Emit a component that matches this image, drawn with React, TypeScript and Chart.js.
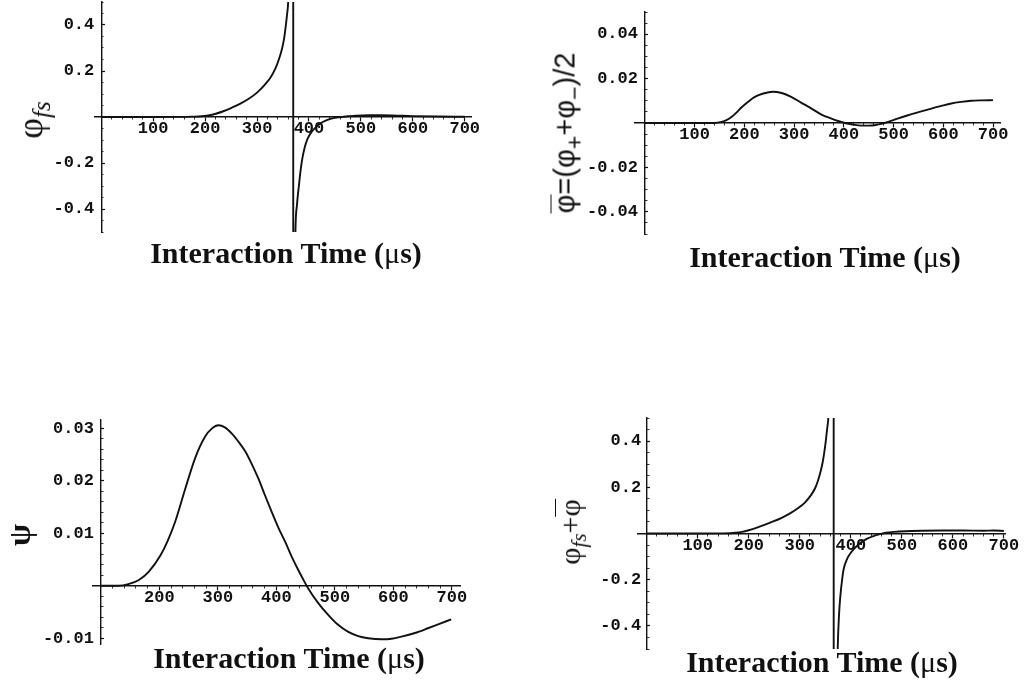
import React, { useEffect, useRef } from "react";
import { Chart, registerables } from "chart.js";

Chart.register(...registerables);

// ---------- tick labels ----------
const X_TICKS = [100, 200, 300, 400, 500, 600, 700];
const X_TICKS_PSI = [200, 300, 400, 500, 600, 700];
const Y_TICKS_PHI = [-0.4, -0.2, 0.2, 0.4];
const Y_TICKS_BAR = [-0.04, -0.02, 0.02, 0.04];
const Y_TICKS_PSI = [-0.01, 0.01, 0.02, 0.03];

// ---------- series (interaction time in µs, value) ----------
const PHI_FS: [number, number][] = [
  [0, 0], [50, 0], [100, 0], [150, 0.0005], [175, 0.0015], [193, 0.003], [206, 0.007],
  [219, 0.013], [235, 0.025], [251, 0.04], [268, 0.058], [284, 0.079], [300, 0.106],
  [316, 0.143], [326, 0.172], [335, 0.209], [342, 0.25], [348, 0.296], [352, 0.34],
  [355, 0.39], [357.5, 0.44], [360, 0.5], [363, 0.7], [366, 1.3], [368, 2.8],
  [369.3, 12], [370.1, -12], [371, -1.6], [372.5, -0.75], [374, -0.494], [377, -0.38],
  [380.6, -0.299], [384, -0.23], [387, -0.183], [392, -0.13], [397, -0.096], [405, -0.065],
  [413, -0.045], [422, -0.028], [432, -0.016], [445, -0.006], [458, -0.001], [475, 0.003],
  [490, 0.006], [516, 0.008], [540, 0.008], [570, 0.006], [600, 0.004], [650, 0.002],
  [700, 0.001],
];

const PHI_BAR: [number, number][] = [
  [0, 0], [50, 0], [100, 0], [140, 0], [154, 0.0005], [164, 0.0013], [174, 0.0027],
  [184, 0.0047], [194, 0.007], [207, 0.0095], [221, 0.0118], [238, 0.0133], [257, 0.0141],
  [275, 0.0135], [294, 0.0118], [314, 0.0092], [335, 0.0065], [355, 0.0038], [375, 0.002],
  [390, 0.0008], [402, 0], [418, -0.0007], [435, -0.0012], [450, -0.0012], [462, -0.001],
  [475, -0.0004], [489, 0.0005], [508, 0.002], [529, 0.0035], [552, 0.005], [576, 0.0065],
  [596, 0.0077], [616, 0.0088], [636, 0.0095], [656, 0.01], [678, 0.0102], [700, 0.0103],
];

const PSI: [number, number][] = [
  [100, 0], [130, 0], [147, 0.0003], [165, 0.0011], [182, 0.0027], [202, 0.0058],
  [214, 0.0085], [227, 0.0122], [244, 0.0184], [261, 0.0243], [278, 0.0284], [290, 0.0300],
  [301, 0.0306], [312, 0.0302], [324, 0.029], [335, 0.0275], [347, 0.0256], [358, 0.0232],
  [369, 0.0205], [380, 0.0174], [392, 0.0141], [403, 0.0112], [415, 0.0084], [426, 0.0056],
  [437.5, 0.003], [446, 0.0012], [454.5, -0.0005], [471, -0.0032], [489, -0.0056],
  [505, -0.0074], [523, -0.0088], [540, -0.0096], [557, -0.01], [580, -0.0102],
  [597, -0.0101], [614, -0.0097], [637, -0.009], [659, -0.0081], [680, -0.0072],
  [699, -0.0064],
];

const PHI_SUM: [number, number][] = [
  [0, 0], [50, 0], [100, 0], [150, 0.0005], [174, 0.003], [187, 0.007], [200, 0.014],
  [216, 0.025], [232, 0.038], [248, 0.052], [264.5, 0.068], [281, 0.087], [297, 0.11],
  [310, 0.134], [322, 0.166], [330, 0.196], [335, 0.224], [340.6, 0.266], [344.6, 0.305],
  [348, 0.35], [351, 0.4], [353.5, 0.45], [356, 0.5], [359, 0.65], [362, 0.95],
  [364.5, 1.8], [366.1, 12], [366.9, -12], [368.5, -2], [371, -0.95], [374.5, -0.49],
  [377, -0.35], [379.6, -0.27], [383, -0.2], [386, -0.155], [392.4, -0.112], [398, -0.09],
  [405, -0.07], [414, -0.05], [424, -0.033], [433, -0.021], [443, -0.012], [455, -0.004],
  [469, 0.003], [485, 0.007], [507, 0.01], [540, 0.012], [580, 0.013], [620, 0.013],
  [660, 0.012], [680, 0.013], [700, 0.011],
];

// ---------- layout of the four panels ----------
type Box = { left: number; top: number; width: number; height: number };
type Area = { left: number; top: number; right: number; bottom: number };
type Panel = {
  id: string;
  data: [number, number][];
  box: Box;
  area: Area;
  xMin: number;
  xMax: number;
  yMin: number;
  yMax: number;
  yAxisAt: number;
  xTicks: number[];
  yTicks: number[];
  xMinorStep: number;
  yMinorStep: number;
  yLabelGap: number;
};

const PANELS: Panel[] = [
  {
    id: "phifs", data: PHI_FS,
    box: { left: 0, top: 0, width: 516, height: 300 },
    area: { left: 95, top: 2, right: 471, bottom: 232 },
    xMin: -12, xMax: 712, yMin: -0.5, yMax: 0.5, yAxisAt: 0,
    xTicks: X_TICKS, yTicks: Y_TICKS_PHI, xMinorStep: 20, yMinorStep: 0.05, yLabelGap: 7,
  },
  {
    id: "phibar", data: PHI_BAR,
    box: { left: 516, top: 0, width: 516, height: 300 },
    area: { left: 635, top: 12, right: 1000, bottom: 234 },
    xMin: -20, xMax: 714, yMin: -0.05, yMax: 0.05, yAxisAt: 0,
    xTicks: X_TICKS, yTicks: Y_TICKS_BAR, xMinorStep: 20, yMinorStep: 0.005, yLabelGap: 7,
  },
  {
    id: "psi", data: PSI,
    box: { left: 0, top: 342, width: 516, height: 342 },
    area: { left: 92.7, top: 420, right: 460, bottom: 644 },
    xMin: 86, xMax: 714, yMin: -0.0111, yMax: 0.0316, yAxisAt: 100,
    xTicks: X_TICKS_PSI, yTicks: Y_TICKS_PSI, xMinorStep: 20, yMinorStep: 0.002, yLabelGap: 7,
  },
  {
    id: "phisum", data: PHI_SUM,
    box: { left: 516, top: 342, width: 516, height: 342 },
    area: { left: 638, top: 418, right: 1005.4, bottom: 649 },
    xMin: -17, xMax: 703, yMin: -0.5, yMax: 0.5, yAxisAt: 0,
    xTicks: X_TICKS, yTicks: Y_TICKS_PHI, xMinorStep: 20, yMinorStep: 0.05, yLabelGap: 5.5,
  },
];

const INK = "#111";
const MONO = { family: "'Liberation Mono', 'Courier New', monospace", weight: "bold" as const, size: 17, lineHeight: 1 };

function minorTicks(lo: number, hi: number, step: number, majors: number[]): number[] {
  const out: number[] = [];
  const n0 = Math.ceil(lo / step - 1e-9);
  const n1 = Math.floor(hi / step + 1e-9);
  for (let n = n0; n <= n1; n++) {
    const v = +(n * step).toFixed(6);
    if (Math.abs(v) < 1e-12) continue;
    if (majors.some((m) => Math.abs(m - v) < step * 0.01)) continue;
    out.push(v);
  }
  return out;
}

const noPad = (s: any) => {
  s.paddingLeft = 0;
  s.paddingRight = 0;
  s.paddingTop = 0;
  s.paddingBottom = 0;
};
const setTicks = (vals: number[]) => (s: any) => {
  s.ticks = vals.map((v) => ({ value: v }));
};

function makeConfig(p: Panel): any {
  const pad = {
    left: p.area.left - p.box.left,
    top: p.area.top - p.box.top,
    right: p.box.left + p.box.width - p.area.right,
    bottom: p.box.top + p.box.height - p.area.bottom,
  };
  const pxPerX = (p.area.right - p.area.left) / (p.xMax - p.xMin);
  const labelAt = p.yAxisAt - p.yLabelGap / pxPerX;
  const xLo = Math.max(0, p.yAxisAt);
  const xMinor = minorTicks(xLo, 700, p.xMinorStep, p.xTicks);
  const yMinor = minorTicks(p.yMin, p.yMax, p.yMinorStep, p.yTicks);
  const hidden = {
    border: { display: false },
    ticks: { display: false },
    afterFit: noPad,
  };
  return {
    type: "scatter",
    data: {
      datasets: [
        {
          data: p.data.map(([x, y]) => ({ x, y })),
          xAxisID: "x",
          yAxisID: "y",
          showLine: true,
          borderColor: INK,
          borderWidth: 1.9,
          pointRadius: 0,
          pointHoverRadius: 0,
          fill: false,
          cubicInterpolationMode: "monotone",
        },
      ],
    },
    options: {
      responsive: false,
      animation: false,
      events: [],
      layout: { padding: pad },
      plugins: { legend: { display: false }, tooltip: { enabled: false }, title: { display: false } },
      scales: {
        x: {
          type: "linear", axis: "x", min: p.xMin, max: p.xMax,
          position: { y: 0 },
          afterBuildTicks: setTicks(p.xTicks),
          afterFit: noPad,
          border: { display: true, color: INK, width: 1.4 },
          grid: { display: true, drawOnChartArea: false, drawTicks: true, tickLength: 4, tickColor: INK, tickWidth: 1.2 },
          ticks: { display: true, color: INK, font: MONO, padding: -0.5, maxRotation: 0, minRotation: 0, autoSkip: false, callback: (v: number) => String(v) },
        },
        xm: {
          type: "linear", axis: "x", min: p.xMin, max: p.xMax,
          position: { y: 0 },
          afterBuildTicks: setTicks(xMinor),
          ...hidden,
          grid: { display: true, drawOnChartArea: false, drawTicks: true, tickLength: 2.5, tickColor: "#333", tickWidth: 1 },
        },
        y: {
          type: "linear", axis: "y", min: p.yMin, max: p.yMax,
          position: { x: p.yAxisAt },
          afterBuildTicks: setTicks(p.yTicks),
          afterFit: noPad,
          border: { display: true, color: INK, width: 1.4 },
          grid: { display: true, drawOnChartArea: false, drawTicks: true, tickLength: -4, tickColor: INK, tickWidth: 1.2 },
          ticks: { display: false },
        },
        ym: {
          type: "linear", axis: "y", min: p.yMin, max: p.yMax,
          position: { x: p.yAxisAt },
          afterBuildTicks: setTicks(yMinor),
          ...hidden,
          grid: { display: true, drawOnChartArea: false, drawTicks: true, tickLength: -2.5, tickColor: "#333", tickWidth: 1 },
        },
        yl: {
          type: "linear", axis: "y", min: p.yMin, max: p.yMax,
          position: { x: labelAt },
          afterBuildTicks: setTicks(p.yTicks),
          afterFit: noPad,
          border: { display: false },
          grid: { display: false, drawTicks: false },
          ticks: { display: true, color: INK, font: MONO, padding: 0, autoSkip: false, callback: (v: number) => String(v) },
        },
      },
    },
  };
}

function PanelChart({ panel }: { panel: Panel }) {
  const ref = useRef<HTMLCanvasElement | null>(null);
  useEffect(() => {
    if (!ref.current) return;
    const chart = new Chart(ref.current, makeConfig(panel));
    return () => chart.destroy();
  }, [panel]);
  const b = panel.box;
  return (
    <canvas
      ref={ref}
      width={b.width}
      height={b.height}
      style={{ position: "absolute", left: b.left, top: b.top, width: b.width, height: b.height }}
    />
  );
}

// ---------- titles ----------
const SERIF = "'Liberation Serif', 'Times New Roman', serif";
const SANS = "'Liberation Sans', Arial, sans-serif";

function XTitle({ cx, top }: { cx: number; top: number }) {
  return (
    <div
      style={{
        position: "absolute", left: cx, top, transform: "translateX(-50%)",
        whiteSpace: "nowrap", fontFamily: SERIF, fontWeight: "bold", fontSize: 30,
        lineHeight: "30px", color: INK,
      }}
    >
      Interaction Time (<span style={{ fontWeight: "normal" }}>μ</span>s)
    </div>
  );
}

function YTitle({ cx, cy, children, font }: { cx: number; cy: number; children: React.ReactNode; font: React.CSSProperties }) {
  return (
    <div
      style={{
        position: "absolute", left: cx, top: cy,
        transform: "translate(-50%, -50%) rotate(-90deg)",
        whiteSpace: "nowrap", color: INK, lineHeight: 1, ...font,
      }}
    >
      {children}
    </div>
  );
}

const subStyle: React.CSSProperties = { fontSize: "0.7em", verticalAlign: "-0.3em", lineHeight: 0 };
const pmStyle: React.CSSProperties = { fontSize: "0.8em", verticalAlign: "-0.35em", lineHeight: 0 };
const bar: React.CSSProperties = {
  display: "inline-block",
  borderTop: "1.6px solid #111",
  lineHeight: 0.72,
  paddingTop: 3,
  verticalAlign: "baseline",
};

export default function App() {
  return (
    <div
      style={{
        position: "absolute", left: 0, top: 0, width: 1032, height: 684,
        background: "#fff", overflow: "hidden",
      }}
    >
      {PANELS.map((p) => (
        <PanelChart key={p.id} panel={p} />
      ))}

      <XTitle cx={286} top={238} />
      <XTitle cx={825} top={242} />
      <XTitle cx={289} top={643} />
      <XTitle cx={822} top={647} />

      <YTitle cx={30} cy={120} font={{ fontFamily: SERIF, fontSize: 36 }}>
        φ<span style={{ ...subStyle, fontStyle: "italic" }}>fs</span>
      </YTitle>
      <YTitle cx={565} cy={133} font={{ fontFamily: SANS, fontSize: 29 }}>
        <span style={bar}>φ</span>=(φ<span style={pmStyle}>+</span>+φ<span style={pmStyle}>−</span>)/2
      </YTitle>
      <YTitle cx={19} cy={535} font={{ fontFamily: SERIF, fontSize: 32, fontWeight: "bold" }}>
        ψ
      </YTitle>
      <YTitle cx={570} cy={532} font={{ fontFamily: SERIF, fontSize: 30 }}>
        φ<span style={{ ...subStyle, fontStyle: "italic" }}>fs</span>+<span style={bar}>φ</span>
      </YTitle>
    </div>
  );
}
